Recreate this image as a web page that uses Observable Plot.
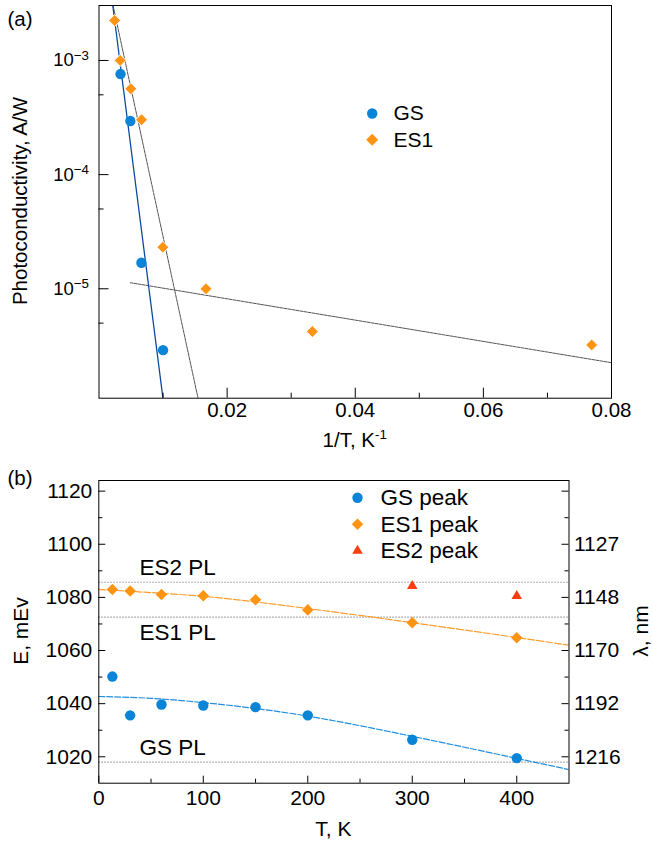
<!DOCTYPE html>
<html><head><meta charset="utf-8">
<script src="https://cdn.jsdelivr.net/npm/d3@7"></script>
<script src="https://cdn.jsdelivr.net/npm/@observablehq/plot@0.6"></script>
<style>
body{margin:0;background:#fff;}
#wrap{position:relative;width:653px;height:848px;overflow:hidden;font-family:"Liberation Sans",Arial,Helvetica,sans-serif;color:#000;}
.lbl{position:absolute;white-space:nowrap;line-height:1;transform:translate(-50%,-50%);}
.rot{transform:translate(-50%,-50%) rotate(-90deg);}
sup{font-size:0.65em;vertical-align:0.55em;line-height:0;}
</style></head><body><div id="wrap"></div>
<script>
// ---------- Panel (a) data ----------
const gsInvT = [0.00336, 0.0049, 0.00662, 0.0100];
const gsPC   = [7.6e-4, 2.95e-4, 1.69e-5, 2.9e-6];
const es1InvT = [0.00245, 0.00330, 0.00497, 0.00664, 0.00997, 0.0167, 0.0333, 0.0769];
const es1PC   = [2.24e-3, 1.0e-3, 5.65e-4, 3.02e-4, 2.31e-5, 1.0e-5, 4.22e-6, 3.22e-6];
const fitGSInvT  = [0.00215, 0.00998];  const fitGSPC  = [3.03e-3, 1.1e-6];
const fitES1InvT = [0.00219, 0.01546];  const fitES1PC = [3.03e-3, 1.1e-6];
const fitES1LowInvT = [0.0049, 0.08];   const fitES1LowPC = [1.13e-5, 2.25e-6];
const xMajorA = [0.02, 0.04, 0.06, 0.08];
const xMinorA = [0.01, 0.03, 0.05, 0.07];
const yMajorA = [1e-3, 1e-4, 1e-5];
const yMinorA = [5e-4, 5e-5, 5e-6];
const legendA = ["GS", "ES1"];

// ---------- Panel (b) data ----------
const temps  = [13, 30, 60, 100, 150, 200, 300, 400];
const gsPeak = [1050.2, 1035.6, 1039.7, 1039.3, 1038.7, 1035.6, 1026.4, 1019.5];
const es1Peak = [1083.0, 1082.4, 1081.1, 1080.6, 1079.1, 1075.3, 1070.5, 1064.8];
const es2Temps = [300, 400];
const es2Peak  = [1084.3, 1080.5];
const fitT     = [0, 50, 100, 150, 200, 250, 300, 350, 400, 450];
const fitGSE   = [1042.7, 1042.0, 1040.4, 1038.2, 1035.3, 1031.7, 1027.7, 1023.6, 1019.4, 1015.2];
const fitES1E  = [1083.0, 1081.8, 1080.4, 1078.3, 1075.8, 1073.2, 1070.5, 1067.7, 1064.9, 1062.0];
const plNames = ["ES2 PL", "ES1 PL", "GS PL"];
const plE     = [1085.7, 1072.6, 1018.0];
const xMajorB = [0, 100, 200, 300, 400];
const xMinorB = [50, 150, 250, 350];
const eMajor  = [1020, 1040, 1060, 1080, 1100, 1120];
const eMinor  = [1030, 1050, 1070, 1090, 1110];
const lambdaAtE    = [1100, 1080, 1060, 1040, 1020];
const lambdaLabels = ["1127", "1148", "1170", "1192", "1216"];
const legendB = ["GS peak", "ES1 peak", "ES2 peak"];

// ---------- styles ----------
const FONT = '"Liberation Sans", Arial, Helvetica, sans-serif';
const blue = "#0a84d6", orange = "#ff9412", red = "#ff3c0f", navy = "#0d4a9e";
const wrap = document.getElementById("wrap");

// ---------- Panel (a) ----------
const aW = 653, aH = 460, aML = 98.5, aMR = 42, aMT = 5, aMB = 62.3;
const aFW = aW - aML - aMR, aFH = aH - aMT - aMB;
const zip = (xs, ys) => xs.map((x, i) => ({x, y: ys[i]}));

const plotA = Plot.plot({
  width: aW, height: aH,
  marginLeft: aML, marginRight: aMR, marginTop: aMT, marginBottom: aMB,
  style: {fontFamily: FONT, fontSize: "20px", color: "#000", background: "transparent"},
  x: {domain: [0, 0.08]},
  y: {type: "log", domain: [1.1e-6, 3.03e-3]},
  marks: [
    Plot.line(zip(fitES1InvT, fitES1PC), {x: "x", y: "y", stroke: "#555", strokeWidth: 1, strokeDasharray: "3,1", clip: true}),
    Plot.line(zip(fitES1LowInvT, fitES1LowPC), {x: "x", y: "y", stroke: "#555", strokeWidth: 1, strokeDasharray: "3,1", clip: true}),
    Plot.line(zip(fitGSInvT, fitGSPC), {x: "x", y: "y", stroke: navy, strokeWidth: 1.3, clip: true}),
    Plot.dot(zip(gsInvT, gsPC), {x: "x", y: "y", r: 5.2, fill: blue}),
    Plot.dot(zip(es1InvT, es1PC), {x: "x", y: "y", r: 5.4, symbol: "diamond2", fill: orange, stroke: "white", strokeWidth: 1}),
    Plot.tickX(xMajorA, {x: d => d, insetTop: aFH - 10, stroke: "#000"}),
    Plot.tickX(xMinorA, {x: d => d, insetTop: aFH - 5, stroke: "#000"}),
    Plot.tickY(yMajorA, {y: d => d, insetRight: aFW - 10, stroke: "#000"}),
    Plot.tickY(yMinorA, {y: d => d, insetRight: aFW - 5, stroke: "#000"}),
    Plot.axisX({ticks: xMajorA, tickSize: 0, tickPadding: 4, tickFormat: d => d.toFixed(2), label: null, fontSize: 20.5}),
    Plot.axisY({ticks: yMajorA, tickSize: 0, tickPadding: 10, tickFormat: d => "10\u2212" + Math.round(-Math.log10(d)), label: null, fontSize: 18.5}),
    Plot.frame({stroke: "#000", strokeWidth: 1}),
    Plot.dot([legendA[0]], {frameAnchor: "top-left", dx: 273.2, dy: 108, r: 5.2, fill: blue}),
    Plot.dot([legendA[1]], {frameAnchor: "top-left", dx: 273.2, dy: 134.3, r: 5.4, symbol: "diamond2", fill: orange}),
    Plot.text([legendA[0]], {text: d => d, frameAnchor: "top-left", dx: 294.5, dy: 108, textAnchor: "start", lineAnchor: "middle", fontSize: 21}),
    Plot.text([legendA[1]], {text: d => d, frameAnchor: "top-left", dx: 294.5, dy: 134.3, textAnchor: "start", lineAnchor: "middle", fontSize: 21})
  ]
});
plotA.style.position = "absolute"; plotA.style.left = "0px"; plotA.style.top = "0px";
wrap.appendChild(plotA);

d3.select(plotA).selectAll('g[aria-label="y-axis tick label"] text').each(function () {
  const parts = this.textContent.split("\u2212");
  const sel = d3.select(this);
  sel.text(parts[0]);
  sel.append("tspan").attr("dy", "-0.48em").attr("font-size", "0.72em").text("\u2212" + parts[1]);
});

// ---------- Panel (b) ----------
const bTop = 460;
const bW = 653, bH = 388, bML = 98.3, bMR = 84.5, bMT = 20, bMB = 65.3;
const bFW = bW - bML - bMR, bFH = bH - bMT - bMB;

const plotB = Plot.plot({
  width: bW, height: bH,
  marginLeft: bML, marginRight: bMR, marginTop: bMT, marginBottom: bMB,
  style: {fontFamily: FONT, fontSize: "21px", color: "#000", background: "transparent"},
  x: {domain: [0, 450]},
  y: {domain: [1010.06, 1124.0]},
  marks: [
    Plot.ruleY(plE, {y: d => d, stroke: "#9a9a9a", strokeWidth: 1.2, strokeDasharray: "1.5,1.5"}),
    Plot.line(zip(fitT, fitES1E), {x: "x", y: "y", curve: "natural", stroke: "#ff9d2e", strokeWidth: 1.2, strokeDasharray: "7,2", clip: true}),
    Plot.line(zip(fitT, fitGSE), {x: "x", y: "y", curve: "natural", stroke: "#1f8fe0", strokeWidth: 1.2, strokeDasharray: "6,2", clip: true}),
    Plot.dot(zip(temps, gsPeak), {x: "x", y: "y", r: 5.2, fill: blue}),
    Plot.dot(zip(temps, es1Peak), {x: "x", y: "y", r: 5.2, symbol: "diamond2", fill: orange}),
    Plot.dot(zip(es2Temps, es2Peak), {x: "x", y: "y", r: 3.9, symbol: "triangle", fill: red}),
    Plot.text([plNames[0]], {text: d => d, x: () => 39, y: () => plE[0], dy: -14, textAnchor: "start", lineAnchor: "middle", fontSize: 22.5}),
    Plot.text([plNames[1]], {text: d => d, x: () => 39, y: () => plE[1], dy: 16, textAnchor: "start", lineAnchor: "middle", fontSize: 22.5}),
    Plot.text([plNames[2]], {text: d => d, x: () => 39, y: () => plE[2], dy: -14, textAnchor: "start", lineAnchor: "middle", fontSize: 22.5}),
    Plot.tickX(xMajorB, {x: d => d, insetTop: bFH - 7, stroke: "#000"}),
    Plot.tickX(xMinorB, {x: d => d, insetTop: bFH - 4, stroke: "#000"}),
    Plot.tickY(eMajor, {y: d => d, insetRight: bFW - 7, stroke: "#000"}),
    Plot.tickY(eMinor, {y: d => d, insetRight: bFW - 4, stroke: "#000"}),
    Plot.tickY(eMajor, {y: d => d, insetLeft: bFW - 7, stroke: "#000"}),
    Plot.tickY(eMinor, {y: d => d, insetLeft: bFW - 4, stroke: "#000"}),
    Plot.axisX({ticks: xMajorB, tickSize: 0, tickPadding: 7, tickFormat: d => String(d), label: null, fontSize: 21}),
    Plot.axisY({ticks: eMajor, tickSize: 0, tickPadding: 6.5, tickFormat: d => String(d), label: null, fontSize: 21}),
    Plot.axisY({anchor: "right", ticks: lambdaAtE, tickSize: 0, tickPadding: 5, tickFormat: d => lambdaLabels[lambdaAtE.indexOf(d)], label: null, fontSize: 21}),
    Plot.frame({stroke: "#000", strokeWidth: 1}),
    Plot.dot([legendB[0]], {frameAnchor: "top-left", dx: 258.7, dy: 17.3, r: 5.2, fill: blue}),
    Plot.dot([legendB[1]], {frameAnchor: "top-left", dx: 258.7, dy: 43.8, r: 5.2, symbol: "diamond2", fill: orange}),
    Plot.dot([legendB[2]], {frameAnchor: "top-left", dx: 258.7, dy: 70.3, r: 3.9, symbol: "triangle", fill: red}),
    Plot.text([legendB[0]], {text: d => d, frameAnchor: "top-left", dx: 281.7, dy: 17.3, textAnchor: "start", lineAnchor: "middle", fontSize: 22.5}),
    Plot.text([legendB[1]], {text: d => d, frameAnchor: "top-left", dx: 281.7, dy: 43.8, textAnchor: "start", lineAnchor: "middle", fontSize: 22.5}),
    Plot.text([legendB[2]], {text: d => d, frameAnchor: "top-left", dx: 281.7, dy: 70.3, textAnchor: "start", lineAnchor: "middle", fontSize: 22.5})
  ]
});
plotB.style.position = "absolute"; plotB.style.left = "0px"; plotB.style.top = bTop + "px";
wrap.appendChild(plotB);

// ---------- HTML labels ----------
function addLabel(html, cx, cy, size, rotate) {
  const d = document.createElement("div");
  d.className = "lbl" + (rotate ? " rot" : "");
  d.innerHTML = html;
  d.style.left = cx + "px"; d.style.top = cy + "px"; d.style.fontSize = size + "px";
  wrap.appendChild(d);
}
addLabel("(a)", 20, 19, 20.5, false);
addLabel("(b)", 20, 478, 20.5, false);
addLabel("Photoconductivity, A/W", 19.5, 201, 20.5, true);
addLabel("1/T, K<sup>-1</sup>", 354.7, 440, 20.5, false);
addLabel("E, mEv", 19.5, 631.4, 21, true);
addLabel("\u03bb, nm", 640, 631.4, 21, true);
addLabel("T, K", 333.4, 828, 21, false);
</script></body></html>
